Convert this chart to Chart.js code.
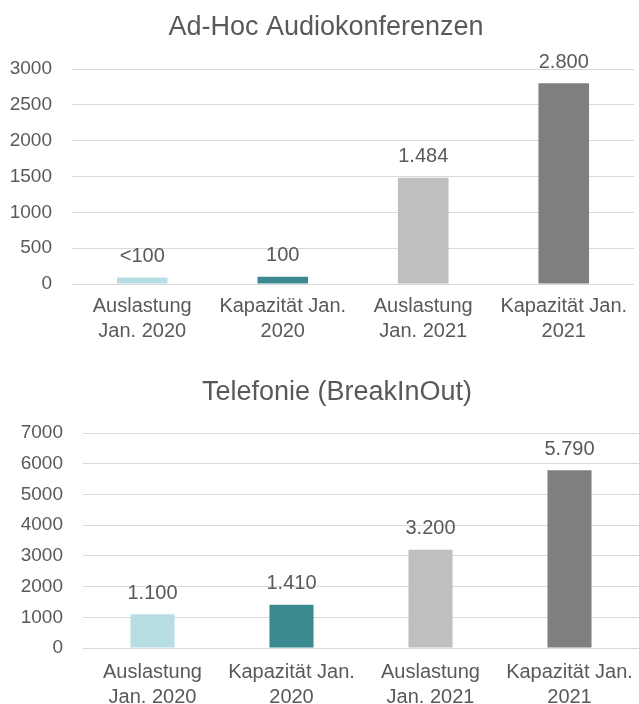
<!DOCTYPE html>
<html>
<head>
<meta charset="utf-8">
<script src="https://cdn.jsdelivr.net/npm/chart.js@4.4.1/dist/chart.umd.min.js"></script>
<style>
  html, body { margin: 0; padding: 0; background: #fff; overflow: hidden; }
  .box { position: relative; width: 639px; }
  #box1 { height: 345px; }
  #box2 { height: 359px; }
</style>
</head>
<body>
<div class="box" id="box1"><canvas id="audioChart"></canvas></div>
<div class="box" id="box2"><canvas id="phoneChart"></canvas></div>
<script>
// Data
const categories = [
    ['Auslastung', 'Jan. 2020'],
    ['Kapazität Jan.', '2020'],
    ['Auslastung', 'Jan. 2021'],
    ['Kapazität Jan.', '2021']
];
const barColors = ['#b7dfe3', '#3a8a8f', '#bfbfbf', '#7f7f7f'];

const audioValues = [90, 100, 1484, 2800];
const audioLabels = ['<100', '100', '1.484', '2.800'];
const audioTicks = [0, 500, 1000, 1500, 2000, 2500, 3000];

const phoneValues = [1100, 1410, 3200, 5790];
const phoneLabels = ['1.100', '1.410', '3.200', '5.790'];
const phoneTicks = [0, 1000, 2000, 3000, 4000, 5000, 6000, 7000];

const textColor = '#595959';
const fontFamily = '"Liberation Sans", Arial, sans-serif';

// draws the value text above each bar
const valueLabels = {
    id: 'valueLabels',
    afterDatasetsDraw(chart, args, opts) {
        const ctx = chart.ctx;
        const meta = chart.getDatasetMeta(0);
        ctx.save();
        ctx.font = `20px ${fontFamily}`;
        ctx.fillStyle = textColor;
        ctx.textAlign = 'center';
        ctx.textBaseline = 'middle';
        meta.data.forEach((bar, i) => {
            ctx.fillText(opts.labels[i], bar.x, bar.y - 21);
        });
        ctx.restore();
    }
};

// title drawn by hand, the original one sits a bit right of the canvas middle
const chartTitle = {
    id: 'chartTitle',
    afterDraw(chart, args, opts) {
        const ctx = chart.ctx;
        ctx.save();
        ctx.font = `27px ${fontFamily}`;
        ctx.fillStyle = textColor;
        ctx.textAlign = 'center';
        ctx.textBaseline = 'middle';
        ctx.fillText(opts.text, opts.x, opts.y);
        ctx.restore();
    }
};

function makeChart(canvasId, title, values, labels, ticks, cfg) {
    const ctx = document.getElementById(canvasId).getContext('2d');
    return new Chart(ctx, {
        type: 'bar',
        data: {
            labels: categories,
            datasets: [{
                data: values,
                backgroundColor: barColors,
                borderWidth: 0,
                barPercentage: cfg.barPct,
                categoryPercentage: 1
            }]
        },
        options: {
            responsive: true,
            maintainAspectRatio: false,
            animation: false,
            layout: {
                padding: { top: cfg.padTop, right: cfg.padRight, bottom: 0, left: 0 }
            },
            plugins: {
                legend: { display: false },
                tooltip: { enabled: false },
                title: { display: false },
                chartTitle: { text: title, x: cfg.titleX, y: cfg.titleY },
                valueLabels: { labels: labels }
            },
            scales: {
                x: {
                    grid: { display: false },
                    border: { display: false },
                    ticks: {
                        color: textColor,
                        padding: cfg.xPad,
                        maxRotation: 0,
                        autoSkip: false,
                        font: { family: fontFamily, size: 20, lineHeight: 1.25 }
                    },
                    afterFit(scale) { scale.height = cfg.xHeight; }
                },
                y: {
                    min: 0,
                    max: ticks[ticks.length - 1],
                    afterBuildTicks(scale) {
                        scale.ticks = ticks.map(v => ({ value: v }));
                    },
                    grid: { color: '#d9d9d9', drawTicks: false, lineWidth: 1 },
                    border: { display: false },
                    ticks: {
                        color: textColor,
                        padding: 20,
                        font: { family: fontFamily, size: 19 },
                        callback: (v) => String(v)
                    },
                    afterFit(scale) { scale.width = cfg.yWidth; }
                }
            }
        },
        plugins: [valueLabels, chartTitle]
    });
}

makeChart('audioChart', 'Ad-Hoc Audiokonferenzen', audioValues, audioLabels, audioTicks,
    { barPct: 0.36, padTop: 69, padRight: 5, titleX: 326, titleY: 28, yWidth: 72, xHeight: 61, xPad: 2 });
makeChart('phoneChart', 'Telefonie (BreakInOut)', phoneValues, phoneLabels, phoneTicks,
    { barPct: 0.317, padTop: 88, padRight: 0, titleX: 337, titleY: 48, yWidth: 83, xHeight: 56, xPad: 4 });
</script>
</body>
</html>
